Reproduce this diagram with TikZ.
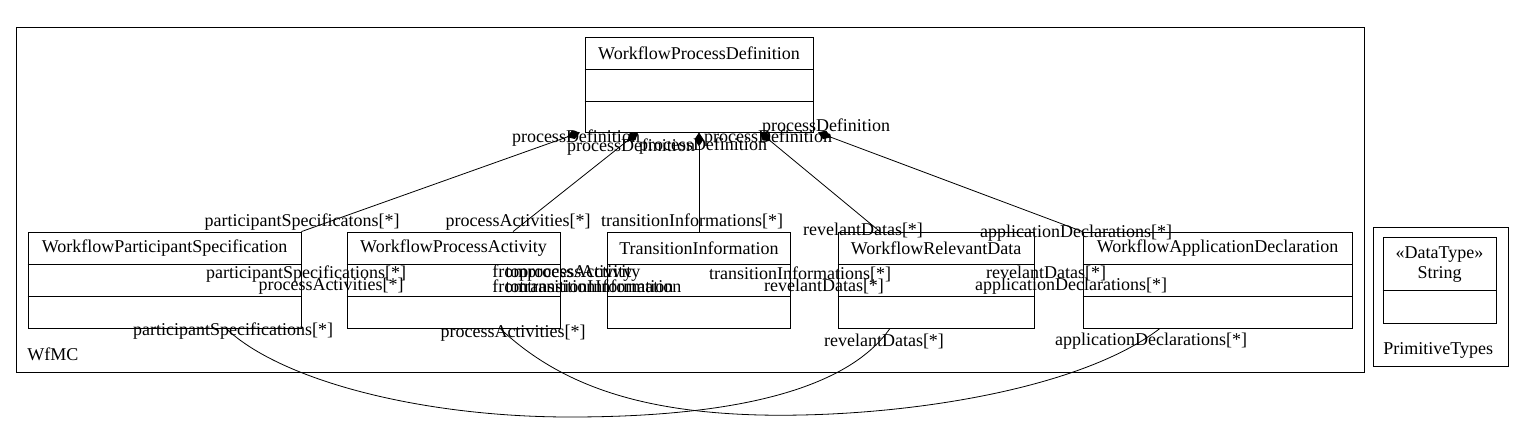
\documentclass[tikz,border=0pt]{standalone}
\usepackage{fontspec}
\setmainfont{Liberation Serif}
\usetikzlibrary{arrows.meta}
\begin{document}
\begin{tikzpicture}[x=1pt,y=-1pt,line width=0.8pt,
  every node/.style={font=\fontsize{18}{21}\selectfont},
  cls/.style={draw,inner sep=0,minimum height=96pt},
  pkg/.style={draw,inner sep=0},
  lbl/.style={inner sep=0},
  comp/.style={{Diamond[length=14pt,width=9pt]}-}]
\useasboundingbox (0,0) rectangle (1524,432);

% packages
\node[pkg,minimum width=1348pt,minimum height=345pt] (wfmc) at (690,199.5) {};
\node[lbl,anchor=west] (wfmcn) at (27,354) {WfMC};
\node[pkg,minimum width=135pt,minimum height=139pt] (prim) at (1440.5,296.5) {};
\node[lbl,anchor=west] (primn) at (1383,350) {PrimitiveTypes};

% classes
\node[cls,minimum width=228pt,minimum height=95pt] (wpd) at (699,84.5) {};
\node[lbl] (wpdn) at ([yshift=-16.5pt]wpd.north) {WorkflowProcessDefinition};
\draw ([yshift=-33pt]wpd.north west) -- ([yshift=-33pt]wpd.north east);
\draw ([yshift=-65pt]wpd.north west) -- ([yshift=-65pt]wpd.north east);

\node[cls,minimum width=273pt] (wps) at (164.5,280) {};
\node[lbl] (wpsn) at ([yshift=-16.5pt]wps.north) {WorkflowParticipantSpecification};
\node[cls,minimum width=213pt] (wpa) at (453.5,280) {};
\node[lbl] (wpan) at ([yshift=-16.5pt]wpa.north) {WorkflowProcessActivity};
\node[cls,minimum width=183pt] (ti) at (699,280) {};
\node[lbl] (tin) at ([yshift=-16.5pt]ti.north) {TransitionInformation};
\node[cls,minimum width=196pt] (wrd) at (936,280) {};
\node[lbl] (wrdn) at ([yshift=-16.5pt]wrd.north) {WorkflowRelevantData};
\node[cls,minimum width=269pt] (wad) at (1217.5,280) {};
\node[lbl] (wadn) at ([yshift=-16.5pt]wad.north) {WorkflowApplicationDeclaration};
\foreach \c in {wps,wpa,ti,wrd,wad}{
  \draw ([yshift=-33pt]\c.north west) -- ([yshift=-33pt]\c.north east);
  \draw ([yshift=-65pt]\c.north west) -- ([yshift=-65pt]\c.north east);
}

\node[cls,minimum width=113pt,minimum height=86pt] (str) at (1439.5,280) {};
\node[lbl] (strs) at (1439.5,255) {«DataType»};
\node[lbl] (strn) at (1439.5,274) {String};
\draw ([yshift=-54pt]str.north west) -- ([yshift=-54pt]str.north east);

% compositions
\draw[comp] ([xshift=-119pt]wpd.south) -- (wps.north east);
\draw[comp] ([xshift=-61pt]wpd.south) -- ([xshift=59.5pt]wpa.north);
\draw[comp] (wpd.south) -- (ti.north);
\draw[comp] ([xshift=61pt]wpd.south) -- ([xshift=-56pt]wrd.north);
\draw[comp] ([xshift=119pt]wpd.south) -- (wad.north west);

% bottom curves
\draw ([xshift=61.5pt]wps.south) .. controls (280,380) and (420,417) .. (570,417)
      .. controls (700,417) and (840,400) .. ([xshift=-46pt]wrd.south);
\draw ([xshift=46.5pt]wpa.south) .. controls (560,385) and (640,412) .. (760,415)
      .. controls (900,418) and (1080,390) .. ([xshift=-57.5pt]wad.south);

% role labels near WorkflowProcessDefinition
\node[lbl] (pd1) at (576,138) {processDefinition};
\node[lbl] (pd2) at (631,147) {processDefinition};
\node[lbl] (pd3) at (703,146) {processDefinition};
\node[lbl] (pd4) at (768,138) {processDefinition};
\node[lbl] (pd5) at (826,127) {processDefinition};

% labels above the classes
\node[lbl] (t1) at (302,222) {participantSpecificatons[*]};
\node[lbl] (t2) at (518,222) {processActivities[*]};
\node[lbl] (t3) at (692,221) {transitionInformations[*]};
\node[lbl] (t4) at (863,230) {revelantDatas[*]};
\node[lbl] (t5) at (1076,233) {applicationDeclarations[*]};

% labels in the middle
\node[lbl] (m1) at (306,274) {participantSpecifications[*]};
\node[lbl] (m2) at (331,286) {processActivities[*]};
\node[lbl,anchor=west] (m3) at (492,273) {fromprocessActivity};
\node[lbl,anchor=west] (m4) at (505,273) {toprocessActivity};
\node[lbl,anchor=west] (m5) at (492,286) {fromtransitionInformation};
\node[lbl,anchor=west] (m6) at (505,286) {totransitionInformation};
\node[lbl] (m7) at (800,274) {transitionInformations[*]};
\node[lbl] (m8) at (824,286) {revelantDatas[*]};
\node[lbl] (m9) at (1046,273) {revelantDatas[*]};
\node[lbl] (m10) at (1071,286) {applicationDeclarations[*]};

% labels below the classes
\node[lbl] (b1) at (233,331) {participantSpecifications[*]};
\node[lbl] (b2) at (513,333) {processActivities[*]};
\node[lbl] (b3) at (884,341) {revelantDatas[*]};
\node[lbl] (b4) at (1151,341) {applicationDeclarations[*]};
\end{tikzpicture}
\end{document}
